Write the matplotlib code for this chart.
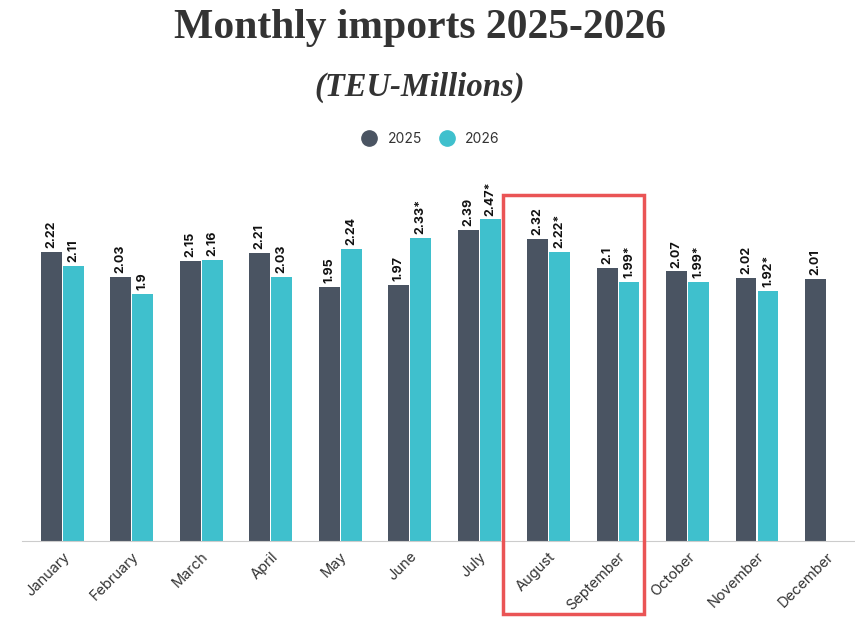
import matplotlib.pyplot as plt
from matplotlib.patches import Rectangle
from matplotlib.lines import Line2D
import numpy as np

months = ['January', 'February', 'March', 'April', 'May', 'June', 'July',
          'August', 'September', 'October', 'November', 'December']
imports_2025 = [2.22, 2.03, 2.15, 2.21, 1.95, 1.97, 2.39, 2.32, 2.1, 2.07, 2.02, 2.01]
imports_2026 = [2.11, 1.9, 2.16, 2.03, 2.24, 2.33, 2.47, 2.22, 1.99, 1.99, 1.92, None]
labels_2025 = ['2.22', '2.03', '2.15', '2.21', '1.95', '1.97', '2.39', '2.32', '2.1', '2.07', '2.02', '2.01']
labels_2026 = ['2.11', '1.9', '2.16', '2.03', '2.24', '2.33*', '2.47*', '2.22*', '1.99*', '1.99*', '1.92*', '']

c25 = '#4a5462'
c26 = '#3fc0cd'
txt = '#333333'

plt.rcParams['font.family'] = ['Inter', 'DejaVu Sans']

fig = plt.figure(figsize=(8.55, 6.24), dpi=100)
ax = fig.add_axes([22 / 855, 83 / 624, 1 - 22 / 855, (541 - 150.4) / 624])

x = np.arange(len(months))
w = 0.30
gap = 0.008
for i in x:
    ax.bar(i - w / 2 - gap, imports_2025[i], width=w, color=c25)
    ax.text(i - w / 2 - gap, imports_2025[i] + 0.03, labels_2025[i], rotation=90,
            ha='center', va='bottom', fontsize=9, fontweight='bold', color='#111111')
    if imports_2026[i] is not None:
        ax.bar(i + w / 2 + gap, imports_2026[i], width=w, color=c26)
        ax.text(i + w / 2 + gap, imports_2026[i] + 0.03, labels_2026[i], rotation=90,
                ha='center', va='bottom', fontsize=9, fontweight='bold', color='#111111')

ax.set_xlim(-0.58, 11.41)
ax.set_ylim(0, 3)
ax.set_xticks(x)
ax.set_xticklabels(months, rotation=45, ha='right', rotation_mode='anchor',
                   fontsize=10.5, color=txt)
ax.tick_params(axis='x', length=0, pad=6)
ax.set_yticks([])
for s in ['top', 'right', 'left']:
    ax.spines[s].set_visible(False)
ax.spines['bottom'].set_color('#cccccc')

fig.text(0.491, 1 - 28 / 624, 'Monthly imports 2025-2026', ha='center', va='center',
         fontsize=30, fontweight='bold', family='Liberation Serif', color='#333333')
fig.text(0.491, 1 - 87 / 624, '(TEU-Millions)', ha='center', va='center',
         fontsize=23.5, fontweight='bold', style='italic', family='Liberation Serif',
         color='#333333')

handles = [Line2D([], [], marker='o', linestyle='', markersize=11, color=c25),
           Line2D([], [], marker='o', linestyle='', markersize=11, color=c26)]
fig.legend(handles, ['2025', '2026'], loc='center', ncol=2, frameon=False,
           bbox_to_anchor=(0.5, 1 - 139 / 624), fontsize=10, handletextpad=0.3,
           columnspacing=0.8, labelcolor=txt)

fig.patches.append(Rectangle((503 / 855, 1 - 614 / 624), (644 - 503) / 855, (614 - 195) / 624,
                             transform=fig.transFigure, fill=False,
                             edgecolor='#ea5455', linewidth=2.5))

fig.savefig('out.png', dpi=100, facecolor='white')
